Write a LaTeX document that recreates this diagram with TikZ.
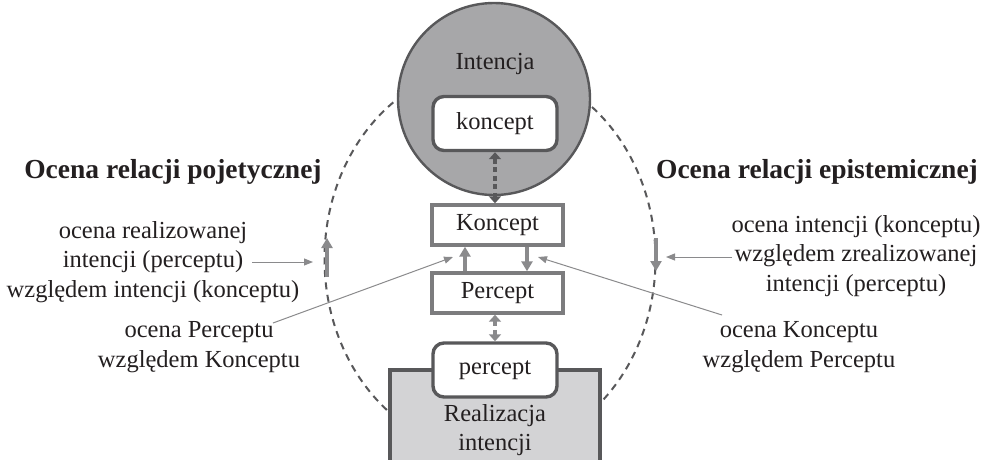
\documentclass[tikz,border=0pt]{standalone}
\usepackage{fontspec}
\setmainfont{Liberation Serif}
\usetikzlibrary{arrows.meta,shapes.geometric}
\definecolor{txt}{HTML}{231F20}
\definecolor{dgray}{HTML}{58585A}
\definecolor{mgray}{HTML}{7C7C7E}
\definecolor{agray}{HTML}{8A8A8C}
\definecolor{cfill}{HTML}{A7A7A9}
\definecolor{rfill}{HTML}{D3D3D5}
\tikzset{
  lbl/.style={text=txt, font=\fontsize{24.5}{29.5}\selectfont, align=center, inner sep=0pt},
  ttl/.style={text=txt, font=\fontsize{27.5}{32}\selectfont\bfseries, inner sep=0pt},
  sqbox/.style={draw=mgray, line width=3.4pt, fill=white, minimum width=131pt, minimum height=40pt, inner sep=0pt, text=txt, font=\fontsize{24.5}{29.5}\selectfont},
  rbox/.style={draw=dgray, line width=3.4pt, fill=white, rounded corners=11pt, minimum width=124pt, minimum height=54pt, inner sep=0pt, text=txt, font=\fontsize{24.5}{29.5}\selectfont},
  dasharr/.style={line width=4.5pt, dash pattern=on 5pt off 3.5pt, {Triangle[width=12pt,length=7pt]}-{Triangle[width=12pt,length=7pt]}},
  thickarr/.style={agray, line width=4pt, -{Triangle[width=11pt,length=10pt]}},
  pointer/.style={agray, line width=1pt, -{Triangle[width=7pt,length=9pt]}},
}
\begin{document}
\begin{tikzpicture}[x=1pt,y=-1pt]
\useasboundingbox (0,0) rectangle (989,459);
\clip (0,0) rectangle (989,459);
\fill[white] (0,0) rectangle (989,459);
% dashed orbit
\node[ellipse, draw=dgray, line width=2pt, dash pattern=on 7pt off 5.5pt, minimum width=331pt, minimum height=386pt, inner sep=0pt] (orbit) at (490,259) {};
% intention circle
\node[circle, draw=dgray, fill=cfill, line width=2.4pt, minimum size=192pt, inner sep=0pt] (intc) at (494,99) {};
\node[lbl] (intt) at (495,64) {Intencja};
\node[rbox] (kon) at (495,123.5) {koncept};
% realization box
\node[draw=dgray, fill=rfill, line width=3.2pt, minimum width=210pt, minimum height=110pt, inner sep=0pt] (real) at (495,425) {};
\node[lbl] (realt) at (495,430) {Realizacja\\intencji};
\node[rbox] (per) at (495,370) {percept};
% middle boxes
\node[sqbox] (Kon) at (497.5,225) {Koncept};
\node[sqbox] (Per) at (497.5,293) {Percept};
% connectors
\draw[dasharr, dgray] (kon.south) -- (Kon.north -| kon.south);
\draw[dasharr, agray] (Per.south -| per.north) -- (per.north);
\draw[thickarr] (Per.north -| 465,0) -- (Kon.south -| 465,0);
\draw[thickarr] (Kon.south -| 527,0) -- (Per.north -| 527,0);
% arrows on orbit
\coordinate (la0) at (327,277);
\coordinate (la1) at (327,238);
\coordinate (ra0) at (656,238);
\coordinate (ra1) at (656,271);
\draw[thickarr] (la0) -- (la1);
\draw[thickarr] (ra0) -- (ra1);
% titles
\node[ttl] (tleft) at (173,172) {Ocena relacji pojetycznej};
\node[ttl] (tright) at (817,172) {Ocena relacji epistemicznej};
% labels
\node[lbl] (ll1) at (153,262) {ocena realizowanej\\intencji (perceptu)\\względem intencji (konceptu)};
\node[lbl] (ll2) at (199,347) {ocena Perceptu\\względem Konceptu};
\node[lbl] (rl1) at (856,256) {ocena intencji (konceptu)\\względem zrealizowanej\\intencji (perceptu)};
\node[lbl] (rl2) at (799,347) {ocena Konceptu\\względem Perceptu};
% pointers
\coordinate (p1a) at (252,262);
\coordinate (p1b) at (313,262);
\draw[pointer] (p1a) -- (p1b);
\coordinate (p2a) at (732,257);
\coordinate (p2b) at (666,257);
\draw[pointer] (p2a) -- (p2b);
\coordinate (p3a) at (273,323);
\coordinate (p3b) at (453,257);
\draw[pointer] (p3a) -- (p3b);
\coordinate (p4a) at (722,315);
\coordinate (p4b) at (538,257);
\draw[pointer] (p4a) -- (p4b);
\end{tikzpicture}
\end{document}
